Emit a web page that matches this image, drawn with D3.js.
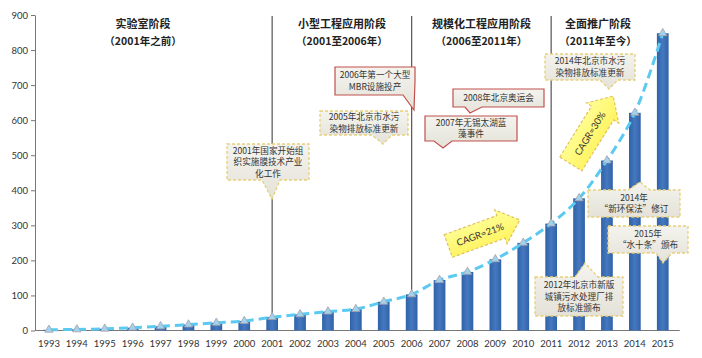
<!DOCTYPE html>
<html><head><meta charset="utf-8">
<script src="https://cdn.jsdelivr.net/npm/d3@7"></script>
<style>body{margin:0;background:#fff}svg{display:block}</style>
</head><body><svg id="c" width="702" height="358"></svg>
<script>
const years = ["1993","1994","1995","1996","1997","1998","1999","2000","2001","2002","2003","2004","2005","2006","2007","2008","2009","2010","2011","2012","2013","2014","2015"];
const values = [2,3,5,8,12,17,22,27,38,46,54,61,82,103,144,167,203,250,305,377,485,621,848];
const yTicks = [0,100,200,300,400,500,600,700,800,900];
const phaseYears = ["2001","2006","2011"];
const phaseTitles = ["实验室阶段","小型工程应用阶段","规模化工程应用阶段","全面推广阶段"];
const phaseSubs = ["（2001年之前）","（2001至2006年）","（2006至2011年）","（2011年至今）"];
const callouts = [
  {lines:["2001年国家开始组","织实施膜技术产业","化工作"], style:"y", box:[227,144,82,36], edge:"bottom", base:[262,280], tip:[272,199]},
  {lines:["2005年北京市水污","染物排放标准更新"], style:"y", box:[320,111,88,24], edge:"bottom", base:[372,392], tip:[383,144]},
  {lines:["2006年第一个大型","MBR设施投产"], style:"r", box:[335,67,80,28], edge:"right", base:[0,0], tip:[414,110]},
  {lines:["2008年北京奥运会"], style:"r", box:[453,89,91,18], edge:"bottom", base:[465,482], tip:[470,113]},
  {lines:["2007年无锡太湖蓝","藻事件"], style:"r", box:[425,116,92,25], edge:"bottom", base:[434,452], tip:[443,148]},
  {lines:["2014年北京市水污","染物排放标准更新"], style:"y", box:[545,54,90,26], edge:"bottom", base:[600,618], tip:[609,89]},
  {lines:["2014年","“新环保法”修订"], style:"y", box:[588,190,92,27], edge:"top", base:[628,650], tip:[640,182]},
  {lines:["2015年","“水十条”颁布"], style:"y", box:[608,226,80,27], edge:"bottom", base:[656,672], tip:[663,263]},
  {lines:["2012年北京市新版","城镇污水处理厂排","放标准颁布"], style:"y", box:[535,277,88,39], edge:"top", base:[575,598], tip:[585,263]}
];
const arrows = [
  {label:"CAGR=21%", cx:484, cy:233, angle:-20, len:76, body:24, head:36},
  {label:"CAGR=30%", cx:592, cy:130, angle:-58, len:80, body:26, head:38}
];

const svg = d3.select("#c");
const m = {l:35};
const x = d3.scaleBand().domain(years).range([m.l, m.l + 23*27.9]).paddingInner(0.58).paddingOuter(0.29);
const y = d3.scaleLinear().domain([0,900]).range([330.5, 15]);

const defs = svg.append("defs");
const bg = defs.append("linearGradient").attr("id","bar").attr("x1",0).attr("x2",1);
bg.append("stop").attr("offset","0").attr("stop-color","#2f62a8");
bg.append("stop").attr("offset","0.5").attr("stop-color","#4678c0");
bg.append("stop").attr("offset","1").attr("stop-color","#2f62a8");
const cg = defs.append("linearGradient").attr("id","cal").attr("x1",0).attr("y1",0).attr("x2",0).attr("y2",1);
cg.append("stop").attr("offset","0").attr("stop-color","#f4f3ee");
cg.append("stop").attr("offset","1").attr("stop-color","#e4e2d8");
const ag = defs.append("linearGradient").attr("id","arr").attr("x1",0).attr("y1",0).attr("x2",0).attr("y2",1);
ag.append("stop").attr("offset","0").attr("stop-color","#ffff9a");
ag.append("stop").attr("offset","1").attr("stop-color","#fff25a");

// y axis
const ya = svg.append("g").attr("transform",`translate(${m.l},0)`)
  .call(d3.axisLeft(y).tickValues(yTicks).tickSize(4).tickSizeOuter(0));
ya.select(".domain").attr("stroke","#777");
ya.selectAll(".tick line").attr("stroke","#777");
ya.selectAll("text").attr("font-family","Lato, 'Open Sans', sans-serif").attr("font-size",9.5).attr("fill","#333");

// x axis
const xa = svg.append("g").attr("transform",`translate(0,${y(0)})`)
  .call(d3.axisBottom(x).tickSize(0).tickSizeOuter(0).tickPadding(10));
xa.select(".domain").attr("stroke","#777").attr("d",`M${m.l},0H${m.l+23*27.9+3}`);
xa.selectAll("text").attr("font-family","Lato, 'Open Sans', sans-serif").attr("font-size",9.5).attr("fill","#333");

// phase lines
const cx = yr => x(yr) + x.bandwidth()/2;
svg.selectAll(".phase").data(phaseYears).join("line")
  .attr("x1",cx).attr("x2",cx).attr("y1",y(900)+1).attr("y2",y(0))
  .attr("stroke","#555").attr("stroke-width",1.2);

// phase headers
const bounds = [m.l, ...phaseYears.map(cx), m.l+23*27.9];
const hdr = svg.append("g").attr("font-family","'Noto Sans CJK SC', sans-serif").attr("font-weight","bold").attr("fill","#222").attr("text-anchor","middle").attr("font-size",11);
phaseTitles.forEach((t,i)=>{
  let mx = (bounds[i]+bounds[i+1])/2;
  if (i===0) mx = 143; if (i===3) mx = 598;
  hdr.append("text").attr("x",mx).attr("y",28).text(t);
  hdr.append("text").attr("x",mx).attr("y",45).attr("font-size",10.5).text(phaseSubs[i]);
});

// bars
svg.selectAll(".bar").data(values).join("rect")
  .attr("x",(d,i)=>x(years[i])).attr("width",x.bandwidth())
  .attr("y",d=>y(d)).attr("height",d=>y(0)-y(d)).attr("fill","url(#bar)");

// trend line
const line = d3.line().x((d,i)=>cx(years[i])).y(d=>y(d)).curve(d3.curveCatmullRom);
svg.append("path").datum(values).attr("d",line).attr("fill","none")
  .attr("stroke","#5ccaf0").attr("stroke-width",3).attr("stroke-dasharray","9,5");
// markers
const tri = d3.symbol().type(d3.symbolTriangle).size(30);
svg.selectAll(".mk").data(values).join("path")
  .attr("d",tri).attr("transform",(d,i)=>`translate(${cx(years[i])},${y(d)})`)
  .attr("fill","#9fd3ee").attr("stroke","#a8a0a8").attr("stroke-width",0.8);

// callouts
function calloutPath(c){
  const [bx,by,bw,bh]=c.box, [b1,b2]=c.base, [tx,ty]=c.tip;
  let p;
  if(c.edge==="bottom"){
    p=[[bx,by],[bx+bw,by],[bx+bw,by+bh],[b2,by+bh],[tx,ty],[b1,by+bh],[bx,by+bh]];
  } else if(c.edge==="top"){
    p=[[bx,by],[b1,by],[tx,ty],[b2,by],[bx+bw,by],[bx+bw,by+bh],[bx,by+bh]];
  } else {
    p=[[bx,by],[bx+bw,by],[bx+bw,by+bh-14],[tx,ty],[bx+bw-12,by+bh],[bx,by+bh]];
  }
  return "M"+p.map(q=>q.join(",")).join("L")+"Z";
}
const cl = svg.append("g");
callouts.forEach(c=>{
  const g = cl.append("g");
  g.append("path").attr("d",calloutPath(c)).attr("fill","url(#cal)")
    .attr("stroke", c.style==="r" ? "#c0504d" : "#e6cf78")
    .attr("stroke-width", c.style==="r" ? 1.2 : 1.3)
    .attr("stroke-dasharray", c.style==="r" ? null : "3,2");
  const [bx,by,bw,bh]=c.box;
  const lh = 11.5;
  const n=c.lines.length;
  const y0 = by + bh/2 - (n-1)*lh/2 + 3.2;
  c.lines.forEach((t,i)=>{
    g.append("text").attr("x",bx+bw/2).attr("y",y0+i*lh).attr("text-anchor","middle")
      .attr("font-family","'Noto Sans CJK SC', sans-serif").attr("font-size",8.6).attr("fill","#333").text(t);
  });
});

// CAGR arrows
arrows.forEach(a=>{
  const g = svg.append("g").attr("transform",`translate(${a.cx},${a.cy}) rotate(${a.angle})`);
  const L=a.len, hl=20, h=a.body/2, Hh=a.head/2, x0=-L/2;
  const pts=[[x0,-h],[x0+L-hl,-h],[x0+L-hl,-Hh],[x0+L,0],[x0+L-hl,Hh],[x0+L-hl,h],[x0,h]];
  g.append("path").attr("d","M"+pts.map(p=>p.join(",")).join("L")+"Z")
    .attr("fill","url(#arr)").attr("stroke","#e0c060").attr("stroke-width",1.2).attr("stroke-dasharray","3,2");
  g.append("text").attr("x",-4).attr("y",3.5).attr("text-anchor","middle")
    .attr("font-family","Lato, 'Open Sans', sans-serif").attr("font-size",9.5).attr("fill","#333").text(a.label);
});
</script></body></html>
